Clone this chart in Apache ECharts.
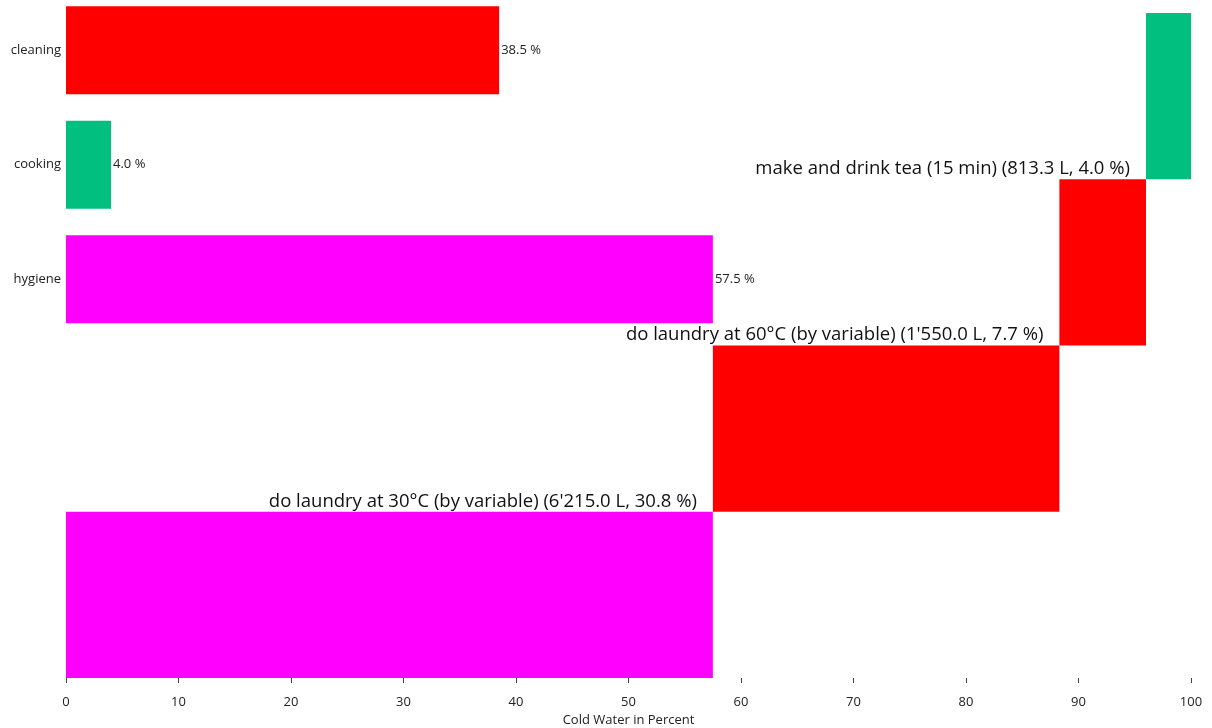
<!DOCTYPE html>
<html>
<head>
<meta charset="utf-8">
<script src="https://cdn.jsdelivr.net/npm/echarts@6/dist/echarts.min.js"></script>
<style>
html,body{margin:0;padding:0;background:#fff;}
#chart{width:1212px;height:728px;}
</style>
</head>
<body>
<div id="chart"></div>
<script>
// ---- data ----
const categories = ['cleaning', 'cooking', 'hygiene'];
const categoryShares = [38.5, 4.0, 57.5];

const stepNames = ['', 'do laundry at 30°C (by variable)', 'do laundry at 60°C (by variable)', 'make and drink tea (15 min)'];
const stepCategories = ['hygiene', 'cleaning', 'cleaning', 'cooking'];
const stepLiters = [11583.0, 6215.0, 1550.0, 813.3];
const stepShares = [57.5, 30.8, 7.7, 4.0];

const xTicks = [0, 10, 20, 30, 40, 50, 60, 70, 80, 90, 100];

// ---- styling ----
const palette = { cleaning: '#ff0000', cooking: '#00bf7f', hygiene: '#ff00ff' };
const FONT = '"Segoe UI", "Open Sans", "Noto Sans", sans-serif';

function fmtLiters(v) {
  const s = v.toFixed(1);
  const [ip, dp] = s.split('.');
  return ip.replace(/\B(?=(\d{3})+(?!\d))/g, "'") + '.' + dp;
}

// cumulative starts for the steps
const stepStarts = [];
let acc = 0;
for (let i = 0; i < stepShares.length; i++) { stepStarts.push(acc); acc += stepShares[i]; }

const stepData = stepShares.map((v, i) => [stepStarts[i], stepStarts[i] + v, i]);

const chart = echarts.init(document.getElementById('chart'), null, { renderer: 'canvas' });
chart.setOption({
  animation: false,
  backgroundColor: '#ffffff',
  textStyle: { fontFamily: FONT },
  grid: { left: 66, right: 21, top: -7, bottom: 48, containLabel: false, outerBoundsMode: 'none' },
  xAxis: {
    type: 'value', min: 0, max: 100, interval: 10,
    name: 'Cold Water in Percent', nameLocation: 'middle', nameGap: 34,
    nameTextStyle: { fontSize: 13, color: '#222', fontFamily: FONT },
    axisLine: { show: false },
    axisTick: { show: true, length: 5, lineStyle: { color: '#444' } },
    axisLabel: { fontSize: 13, color: '#222', margin: 16, fontFamily: FONT,
      formatter: v => xTicks.includes(v) ? String(v) : '' },
    splitLine: { show: false }
  },
  yAxis: [
    {
      type: 'category', data: categories, inverse: true, max: 5,
      axisLine: { show: false }, axisTick: { show: false },
      axisLabel: { fontSize: 13, color: '#222', margin: 5, fontFamily: FONT },
      splitLine: { show: false }
    },
    {
      type: 'value', min: -0.012, max: 4.12, show: false, position: 'right',
      splitLine: { show: false }
    }
  ],
  series: [
    {
      type: 'bar', yAxisIndex: 0, barWidth: 88,
      data: categoryShares.map((v, i) => ({ value: v, itemStyle: { color: palette[categories[i]] } })),
      label: { show: true, position: 'right', distance: 2, fontSize: 13, color: '#222', fontFamily: FONT,
        formatter: p => p.value.toFixed(1) + ' %' }
    },
    {
      type: 'custom', yAxisIndex: 1,
      data: stepData,
      renderItem: function (params, api) {
        const i = params.dataIndex;
        const p0 = api.coord([api.value(0), api.value(2)]);
        const p1 = api.coord([api.value(1), api.value(2) + 1]);
        const children = [{
          type: 'rect',
          shape: { x: p0[0], y: p1[1], width: p1[0] - p0[0], height: p0[1] - p1[1] },
          style: { fill: palette[stepCategories[i]] }
        }];
        if (stepNames[i]) {
          children.push({
            type: 'text', z2: 10,
            style: {
              x: p0[0] - 16, y: p0[1] - 1,
              text: stepNames[i] + ' (' + fmtLiters(stepLiters[i]) + ' L, ' + stepShares[i].toFixed(1) + ' %)',
              align: 'right', verticalAlign: 'bottom',
              fontSize: 18.5, fontFamily: FONT, fill: '#111'
            }
          });
        }
        return { type: 'group', children: children };
      }
    }
  ]
});
</script>
</body>
</html>
